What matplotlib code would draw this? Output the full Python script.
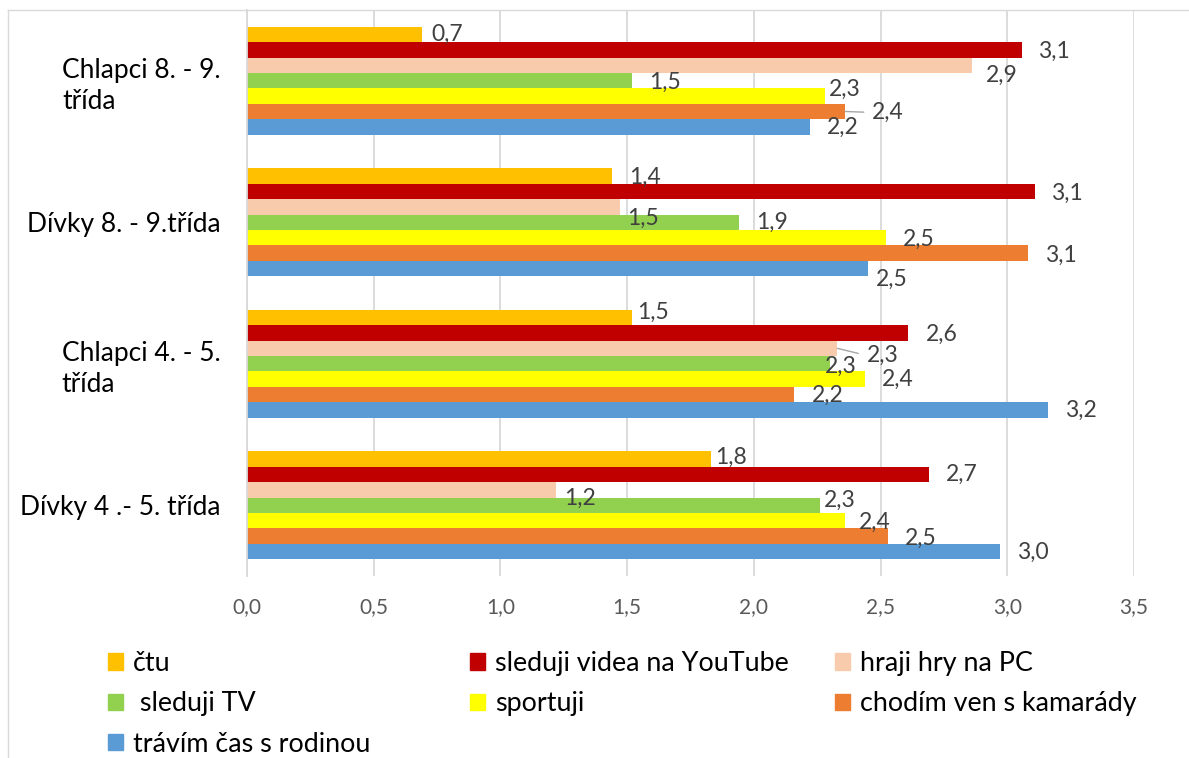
import numpy as np
import matplotlib.pyplot as plt
from matplotlib.lines import Line2D
from matplotlib.patches import Patch

plt.rcParams['font.family'] = ['Lato', 'DejaVu Sans']

# skupiny odspodu nahoru
skupiny = ["Dívky 4 .- 5. třída", "Chlapci 4. - 5.\ntřída",
           "Dívky 8. - 9.třída", "Chlapci 8. - 9.\ntřída"]

nazvy = ["čtu", "sleduji videa na YouTube", "hraji hry na PC", " sleduji TV",
         "sportuji", "chodím ven s kamarády", "trávím čas s rodinou"]
barvy = ["#FFC000", "#C00000", "#F8CBAD", "#92D050", "#FFFF00", "#ED7D31", "#5B9BD5"]

ctu = [1.83, 1.52, 1.44, 0.69]
youtube = [2.69, 2.61, 3.11, 3.06]
pc = [1.22, 2.33, 1.47, 2.86]
tv = [2.26, 2.30, 1.94, 1.52]
sport = [2.36, 2.44, 2.52, 2.28]
kamaradi = [2.53, 2.16, 3.08, 2.36]
rodina = [2.97, 3.16, 2.45, 2.22]
hodnoty = [ctu, youtube, pc, tv, sport, kamaradi, rodina]

# posun popisku od konce sloupce v pixelech (dx, dy dolu)
posuny = [
    [(4, -2), (5, -5), (17, 1), (10, 0)],
    [(17, 0), (17, 1), (16, 2), (16, 1)],
    [(8, 8), (29, 7), (8, 11), (14, 10)],
    [(4, -5), (-5, 3), (17, 0), (17, 2)],
    [(14, 2), (17, 0), (17, 2), (4, -7)],
    [(17, 2), (17, 1), (17, 2), (27, 1)],
    [(17, 1), (17, 1), (8, 11), (17, 1)],
]
vodici = {(2, 1), (5, 3)}

W, H = 1189, 758
fig = plt.figure(figsize=(W / 100, H / 100), dpi=100)
ax = fig.add_axes([247 / W, 1 - 576 / H, (1134 - 247) / W, (576 - 10) / H])

h = 0.76 / 7
y0 = np.arange(len(skupiny))
for i, (vals, col) in enumerate(zip(hodnoty, barvy)):
    y = y0 + (3 - i) * h
    ax.barh(y, vals, height=h, color=col, zorder=2)
    for j, v in enumerate(vals):
        dx, dy = posuny[i][j]
        txt = f"{v:.1f}".replace(".", ",")
        kw = {}
        if (i, j) in vodici:
            kw["arrowprops"] = dict(arrowstyle="-", color="#A6A6A6", lw=1,
                                    shrinkA=4, shrinkB=0, relpos=(0, 0.5))
        ax.annotate(txt, xy=(v, y[j]), xytext=(dx * 0.72, -dy * 0.72),
                    textcoords="offset points", ha="left", va="center",
                    fontsize=16.5, color="#404040", zorder=3, **kw)

ax.set_xlim(0, 3.5)
ax.set_ylim(-0.5, 3.5)
ticks = np.arange(0, 3.51, 0.5)
ax.set_xticks(ticks, [f"{t:.1f}".replace(".", ",") for t in ticks])
ax.set_yticks(y0, skupiny)
for t in ax.get_yticklabels():
    t.set_multialignment("left")
    t.set_linespacing(1.3)
ax.xaxis.grid(True, color="#D9D9D9", lw=1.3)
ax.set_axisbelow(True)
for s in ["top", "right", "bottom"]:
    ax.spines[s].set_visible(False)
ax.spines["left"].set_color("#D9D9D9")
ax.spines["left"].set_linewidth(1.3)
ax.tick_params(axis="x", length=0, pad=15, labelsize=15, labelcolor="#595959")
ax.tick_params(axis="y", length=0, pad=19, labelsize=19, labelcolor="#000000")

# legenda po sloupcich (Excel radi po radcich)
handles = [Patch(color=c, label=n) for c, n in zip(barvy, nazvy)]
sloupce = [[0, 3, 6], [1, 4], [2, 5]]
xs = [108, 470, 835]
for idx, x in zip(sloupce, xs):
    fig.legend(handles=[handles[k] for k in idx], loc="upper left",
               bbox_to_anchor=(x / W, 1 - 651 / H), frameon=False,
               borderpad=0, borderaxespad=0, handlelength=0.56,
               handleheight=0.56, handletextpad=0.37, labelspacing=0.57,
               fontsize=19.4)

fig.add_artist(Line2D([8 / W, 8 / W], [0, 1 - 10 / H], transform=fig.transFigure,
                      color="#D9D9D9", lw=1))
fig.add_artist(Line2D([8 / W, 1], [1 - 10 / H, 1 - 10 / H], transform=fig.transFigure,
                      color="#D9D9D9", lw=1))

fig.savefig("out.png", dpi=100)
